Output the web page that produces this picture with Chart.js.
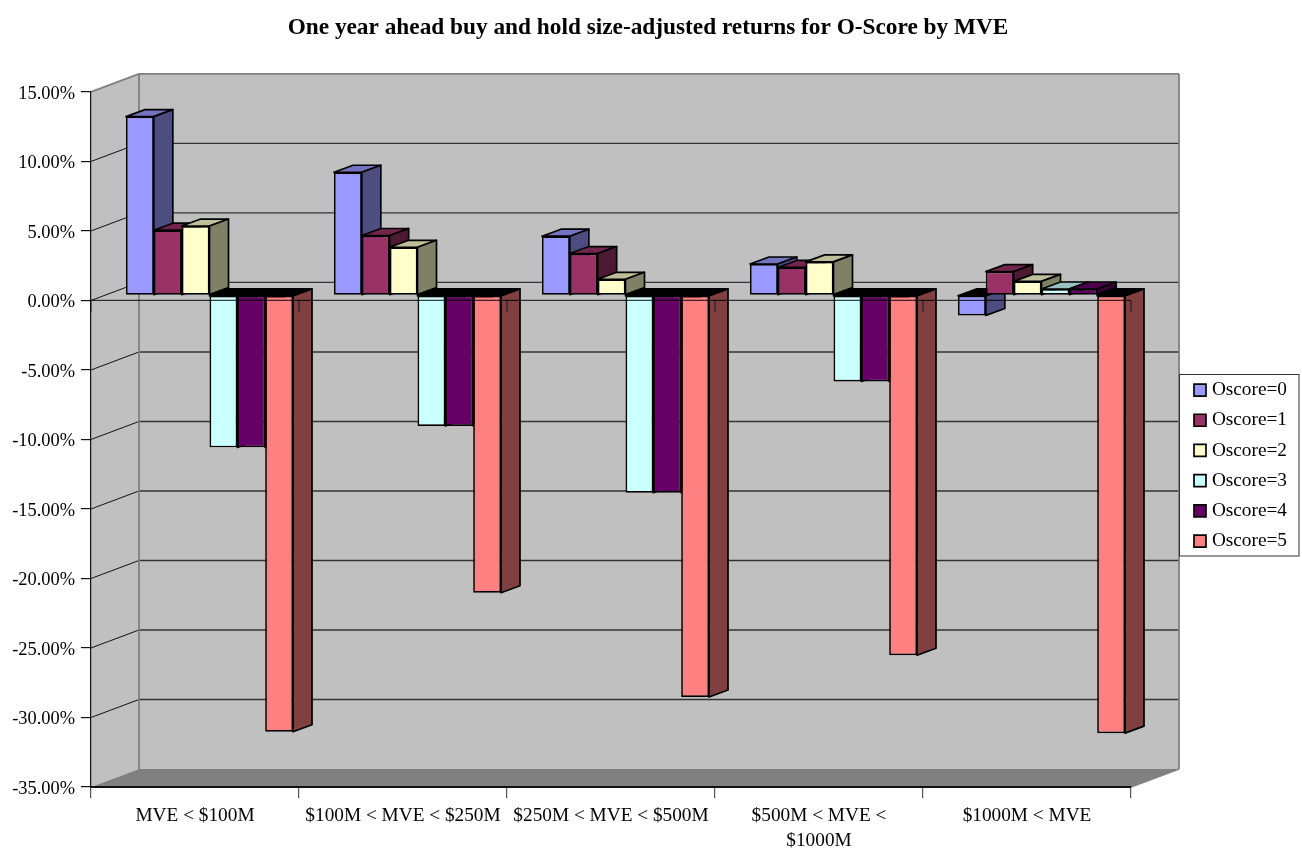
<!DOCTYPE html>
<html>
<head>
<meta charset="utf-8">
<title>O-Score by MVE</title>
<script src="https://cdn.jsdelivr.net/npm/chart.js@4"></script>
<style>
body { margin: 0; background: #fff; }
canvas { display: block; }
</style>
</head>
<body>
<canvas id="chart" width="1302" height="853"></canvas>
<script>
const categories = [
    'MVE < $100M',
    '$100M < MVE < $250M',
    '$250M < MVE < $500M',
    ['$500M < MVE <', '$1000M'],
    '$1000M < MVE'
];
const seriesNames = ['Oscore=0', 'Oscore=1', 'Oscore=2', 'Oscore=3', 'Oscore=4', 'Oscore=5'];

const oscore0 = [12.85, 8.85, 4.25, 2.25, -1.45];
const oscore1 = [4.68, 4.3, 3.0, 2.0, 1.7];
const oscore2 = [4.98, 3.45, 1.15, 2.4, 1.0];
const oscore3 = [-10.94, -9.4, -14.2, -6.2, 0.45];
const oscore4 = [-10.94, -9.4, -14.2, -6.2, 0.45];
const oscore5 = [-31.4, -21.4, -28.9, -25.9, -31.5];
const seriesValues = [oscore0, oscore1, oscore2, oscore3, oscore4, oscore5];

const frontColors = ['#9999ff', '#993366', '#ffffcc', '#ccffff', '#660066', '#ff8080'];
const sideColors = ['#4d4d80', '#4d1a33', '#808066', '#668080', '#330033', '#804040'];
const topColors = ['#7373bf', '#73264d', '#bfbf99', '#99bfbf', '#4d004d', '#bf6060'];

const serif = '"Liberation Serif", "Times New Roman", serif';

// box depth: walls are pushed back by wallDepth, bars sit in the middle of it
const wallDepth = { x: 48, y: -18 };
const barShift = { x: 14.5, y: -5.2 };
const barDepth = { x: 19, y: -7 };

function poly(ctx, pts, fill, stroke, width) {
    ctx.beginPath();
    pts.forEach((p, i) => i ? ctx.lineTo(p[0], p[1]) : ctx.moveTo(p[0], p[1]));
    ctx.closePath();
    if (fill) { ctx.fillStyle = fill; ctx.fill(); }
    if (stroke) { ctx.strokeStyle = stroke; ctx.lineWidth = width; ctx.lineJoin = 'round'; ctx.stroke(); }
}

function line(ctx, x1, y1, x2, y2, color, width) {
    ctx.beginPath();
    ctx.moveTo(x1, y1);
    ctx.lineTo(x2, y2);
    ctx.strokeStyle = color;
    ctx.lineWidth = width;
    ctx.stroke();
}

const box3d = {
    id: 'box3d',
    afterUpdate(chart) {
        // legend sits against the right wall, title is centred over the plot
        const l = chart.legend;
        l.left = 1183.1; l.right = 1287; l.top = 369.5; l.bottom = 580;
        l.width = l.right - l.left; l.height = l.bottom - l.top;
        chart.titleBlock.right = 1296;
    },
    beforeDraw(chart) {
        const ctx = chart.ctx;
        const { left, right, top, bottom } = chart.chartArea;
        const dx = wallDepth.x, dy = wallDepth.y;
        ctx.save();
        // side wall, back wall, floor
        poly(ctx, [[left, top], [left + dx, top + dy], [left + dx, bottom + dy], [left, bottom]], '#c0c0c0');
        poly(ctx, [[left + dx, top + dy], [right + dx, top + dy], [right + dx, bottom + dy], [left + dx, bottom + dy]], '#c0c0c0');
        poly(ctx, [[left, bottom], [left + dx, bottom + dy], [right + dx, bottom + dy], [right, bottom]], '#808080');
        // gridlines run along both walls
        chart.scales.y.ticks.forEach(t => {
            if (t.value === 15 || t.value === -35) return;
            const y = chart.scales.y.getPixelForValue(t.value);
            line(ctx, left, y, left + dx, y + dy, '#111', 1);
            line(ctx, left + dx, y + dy, right + dx, y + dy, '#333', 1.3);
        });
        // wall edges
        line(ctx, left, top, left + dx, top + dy, '#808080', 1.8);
        line(ctx, left + dx, top + dy, right + dx, top + dy, '#808080', 1.8);
        line(ctx, right + dx, top + dy, right + dx, bottom + dy, '#808080', 1.8);
        line(ctx, left + dx, top + dy, left + dx, bottom + dy, '#808080', 1.8);
        line(ctx, right + dx, bottom + dy, right, bottom, '#808080', 1.8);
        // legend frame
        ctx.fillStyle = '#fff';
        ctx.fillRect(1179, 374.5, 120, 181.5);
        ctx.strokeStyle = '#333';
        ctx.lineWidth = 1;
        ctx.strokeRect(1179.5, 374.5, 119.5, 181.5);
        ctx.restore();
    },
    beforeDatasetsDraw(chart) {
        // series are painted left to right so each bar covers its neighbour's side
        const ctx = chart.ctx;
        ctx.save();
        ctx.translate(barShift.x, barShift.y);
        seriesValues.forEach((values, i) => {
            const meta = chart.getDatasetMeta(i);
            meta.data.forEach(bar => {
                const p = bar.getProps(['x', 'y', 'base', 'width']);
                const l = p.x - p.width / 2, r = p.x + p.width / 2;
                const t = Math.min(p.y, p.base), b = Math.max(p.y, p.base);
                const dx = barDepth.x, dy = barDepth.y;
                // the top of a hanging bar is seen as a black opening
                const topFill = p.y > p.base ? '#000' : topColors[i];
                poly(ctx, [[l, t], [l + dx, t + dy], [r + dx, t + dy], [r, t]], topFill, '#000', 1.7);
                poly(ctx, [[r, t], [r + dx, t + dy], [r + dx, b + dy], [r, b]], sideColors[i], '#000', 1.7);
            });
            meta.controller.draw();
        });
        ctx.restore();

        // zero line with its tick marks stays on top of the bars
        const { left, right } = chart.chartArea;
        const y0 = chart.scales.y.getPixelForValue(0);
        const step = (right - left) / categories.length;
        ctx.save();
        line(ctx, left, y0, right, y0, 'rgba(0,0,0,0.75)', 1.2);
        for (let i = 0; i <= categories.length; i++) {
            const x = left + i * step;
            line(ctx, x, y0, x, y0 + 11, 'rgba(0,0,0,0.6)', 1.2);
        }
        ctx.restore();
        return false;
    }
};

new Chart(document.getElementById('chart').getContext('2d'), {
    type: 'bar',
    data: {
        labels: categories,
        datasets: seriesValues.map((values, i) => ({
            label: seriesNames[i],
            data: values,
            backgroundColor: frontColors[i],
            borderColor: '#000',
            borderWidth: 1.7,
            borderSkipped: false,
            barPercentage: 1,
            categoryPercentage: 0.803
        }))
    },
    options: {
        responsive: false,
        animation: false,
        layout: { autoPadding: false, padding: { left: 0, right: 171, top: 0, bottom: 0 } },
        plugins: {
            tooltip: { enabled: false },
            title: {
                display: true,
                text: 'One year ahead buy and hold size-adjusted returns for O-Score by MVE',
                color: '#000',
                font: { family: serif, size: 23.3, weight: 'bold', lineHeight: 1.2 },
                padding: { top: 14, bottom: 50 }
            },
            legend: {
                position: 'chartArea',
                align: 'start',
                labels: {
                    color: '#000',
                    font: { family: serif, size: 19.3, lineHeight: 1.2 },
                    boxWidth: 12,
                    boxHeight: 12,
                    padding: 10.9,
                    textAlign: 'right'
                }
            }
        },
        scales: {
            x: {
                afterFit: s => { s.height = 66; },
                border: { color: '#111', width: 2 },
                grid: { drawOnChartArea: false, tickLength: 11, color: '#555', lineWidth: 1.2 },
                ticks: {
                    color: '#000',
                    font: { family: serif, size: 19.3, lineHeight: 1.3 },
                    autoSkip: false,
                    maxRotation: 0,
                    minRotation: 0,
                    padding: 5
                }
            },
            y: {
                min: -35,
                max: 15,
                afterFit: s => { s.width = 91; },
                border: { color: '#111', width: 1.2 },
                grid: { drawOnChartArea: false, tickLength: 10, color: '#111', lineWidth: 1.2 },
                ticks: {
                    stepSize: 5,
                    color: '#000',
                    font: { family: serif, size: 18.4 },
                    padding: 6,
                    labelOffset: 2,
                    callback: v => v.toFixed(2) + '%'
                }
            }
        }
    },
    plugins: [box3d]
});
</script>
</body>
</html>
